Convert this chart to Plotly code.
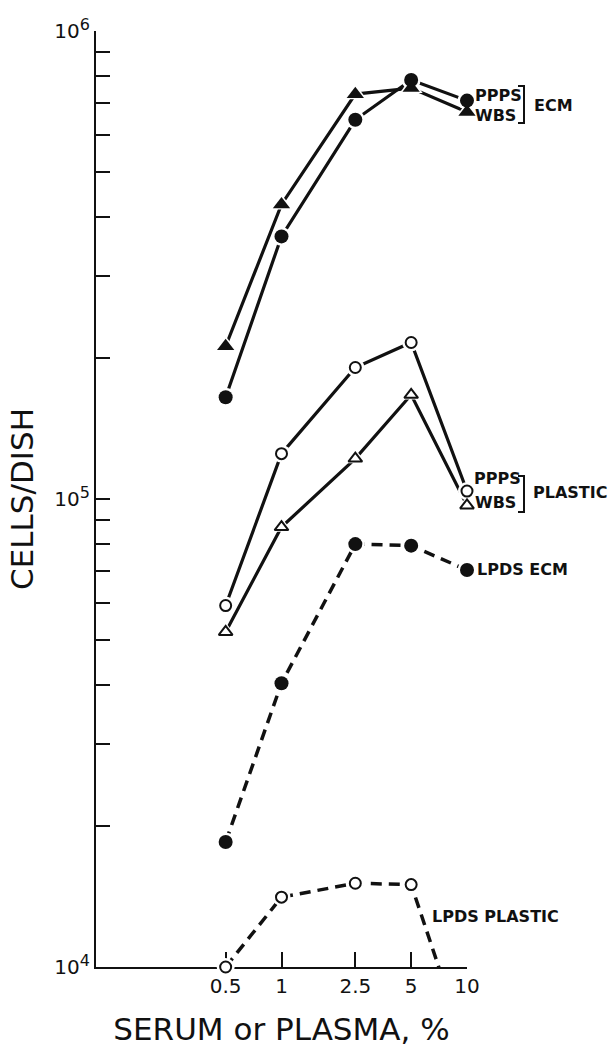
import plotly.graph_objects as go

# ---- data ----
serum_pct = [0.5, 1, 2.5, 5, 10]
ppps_ecm = [1.65e5, 3.64e5, 6.46e5, 7.86e5, 7.10e5]
wbs_ecm = [2.12e5, 4.26e5, 7.33e5, 7.55e5, 6.71e5]
ppps_plastic = [5.92e4, 1.25e5, 1.91e5, 2.16e5, 1.04e5]
wbs_plastic = [5.20e4, 8.71e4, 1.22e5, 1.67e5, 9.69e4]
lpds_ecm = [1.85e4, 4.04e4, 8.01e4, 7.95e4, 7.05e4]
lpds_plastic = [1.00e4, 1.41e4, 1.51e4, 1.50e4, 6.6e3]

x_tick_vals = [0.5, 1, 2.5, 5, 10]
x_tick_text = ["0.5", "1", "2.5", "5", "10"]
y_major_vals = [1e4, 1e5, 1e6]
y_major_exp = ["4", "5", "6"]
y_minor_vals = [m * 10 ** e for e in (4, 5) for m in range(2, 10)]

FONT = "DejaVu Sans"
BLACK = "#111111"

y_major_text = ['10<sup><span style="font-size:16px">' + e + '</span></sup>' for e in y_major_exp]

# (name, values, symbol, filled, dashed, marker size)
series = [
    ("WBS ECM", wbs_ecm, "triangle-up", True, False, 15),
    ("PPPS ECM", ppps_ecm, "circle", True, False, 14),
    ("WBS PLASTIC", wbs_plastic, "triangle-up", False, False, 12),
    ("PPPS PLASTIC", ppps_plastic, "circle", False, False, 11),
    ("LPDS ECM", lpds_ecm, "circle", True, True, 14),
    ("LPDS PLASTIC", lpds_plastic, "circle", False, True, 11),
]

fig = go.Figure()

# lines
for name, vals, sym, filled, dashed, size in series:
    fig.add_trace(go.Scatter(
        x=serum_pct, y=vals, mode="lines", name=name, showlegend=False,
        line=dict(color=BLACK, width=3.5 if dashed else 3.2,
                  dash="11px,7px" if dashed else "solid"),
        hoverinfo="skip",
    ))

def sizes_for(vals, s):
    # hide markers for values below the plotted range (line runs off the axis)
    return [s if v >= 1e4 else 0 for v in vals]

# white halos (gap between line and marker)
for name, vals, sym, filled, dashed, size in series:
    extra = 5 if filled else 7
    fig.add_trace(go.Scatter(
        x=serum_pct, y=vals, mode="markers", showlegend=False, hoverinfo="skip",
        marker=dict(symbol=sym, size=sizes_for(vals, size + extra), color="white",
                    opacity=1, line=dict(width=0)),
        cliponaxis=False,
    ))

# markers
for name, vals, sym, filled, dashed, size in series:
    fig.add_trace(go.Scatter(
        x=serum_pct, y=vals, mode="markers", name=name, showlegend=False,
        marker=dict(symbol=sym, size=sizes_for(vals, size), opacity=1,
                    color=BLACK if filled else "white",
                    line=dict(color=BLACK, width=0 if filled else 2)),
        cliponaxis=False,
    ))

# ---- layout geometry helpers (pixel -> paper) ----
L, T, W, H = 96, 31, 371, 936
def px(xp):
    return (xp - L) / W
def py(yp):
    return (T + H - yp) / H

lab_font = dict(family=FONT, size=16, color=BLACK)
def label(text, xp, yp):
    return dict(text="<b>" + text + "</b>", x=px(xp), y=py(yp), xref="paper", yref="paper",
                xanchor="left", yanchor="middle", showarrow=False, font=lab_font,
                borderpad=0)

annotations = [
    label("PPPS", 474, 96), label("WBS", 474, 115), label("ECM", 533, 105),
    label("PPPS", 473, 479), label("WBS", 474, 502), label("PLASTIC", 532, 492),
    label("LPDS ECM", 476, 569),
    label("LPDS PLASTIC", 431, 916),
]

def bracket(y0, y1):
    x0, x1 = px(518), px(524)
    return dict(type="path", xref="paper", yref="paper",
                path=f"M {x0} {py(y0)} L {x1} {py(y0)} L {x1} {py(y1)} L {x0} {py(y1)}",
                line=dict(color=BLACK, width=2))

shapes = [bracket(86, 123), bracket(476, 512)]

fig.update_layout(
    width=614, height=1047,
    margin=dict(l=L, r=614 - L - W, t=T, b=1047 - T - H),
    paper_bgcolor="white", plot_bgcolor="white",
    font=dict(family=FONT, color=BLACK),
    annotations=annotations, shapes=shapes,
    xaxis=dict(
        type="log", range=[-1, 1], automargin=False,
        tickvals=x_tick_vals, ticktext=x_tick_text,
        ticks="inside", ticklen=15, tickwidth=2, tickcolor=BLACK,
        showline=True, linewidth=2, linecolor=BLACK,
        showgrid=False, zeroline=False, layer="below traces",
        tickfont=dict(family=FONT, size=20, color=BLACK),
        title=dict(text="SERUM or PLASMA, %", font=dict(family=FONT, size=31, color=BLACK),
                   standoff=28),
    ),
    yaxis=dict(
        type="log", range=[4, 6], automargin=False,
        tickvals=y_major_vals, ticktext=y_major_text,
        ticks="inside", ticklen=14, tickwidth=2, tickcolor=BLACK,
        minor=dict(tickvals=y_minor_vals, ticks="inside", ticklen=14, tickwidth=2,
                   tickcolor=BLACK, showgrid=False),
        showline=True, linewidth=2, linecolor=BLACK,
        showgrid=False, zeroline=False, layer="below traces",
        tickfont=dict(family=FONT, size=20, color=BLACK),
        title=dict(text="CELLS/DISH", font=dict(family=FONT, size=31, color=BLACK),
                   standoff=12),
    ),
)

fig.write_html("out.html")
